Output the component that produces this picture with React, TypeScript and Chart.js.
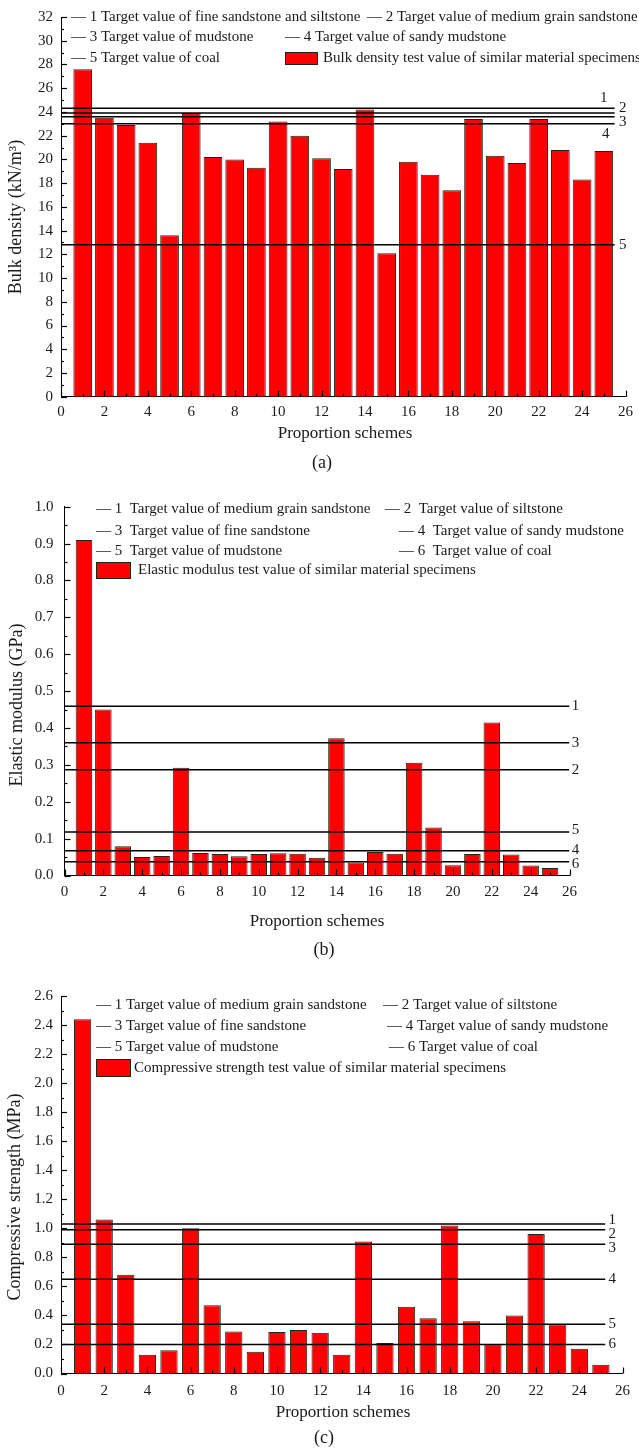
import React, { useEffect, useRef } from "react";
import { Chart, registerables } from "chart.js";

Chart.register(...registerables);

// ---------------- data ----------------
const schemes = [1, 2, 3, 4, 5, 6, 7, 8, 9, 10, 11, 12, 13, 14, 15, 16, 17, 18, 19, 20, 21, 22, 23, 24, 25];
const xTicks = [0, 2, 4, 6, 8, 10, 12, 14, 16, 18, 20, 22, 24, 26];

const bulkDensity = [27.6, 23.5, 22.9, 21.4, 13.6, 23.9, 20.2, 20.0, 19.3, 23.2, 22.0, 20.1, 19.2, 24.2, 12.1, 19.8, 18.7, 17.4, 23.4, 20.3, 19.7, 23.4, 20.8, 18.3, 20.7];
const bulkTargets = [24.3, 23.9, 23.6, 23.0, 12.8];
const bulkTargetNames = ["1", "2", "3", "4", "5"];
const bulkLegend = [
  "— 1 Target value of fine sandstone and siltstone",
  "— 2 Target value of medium grain sandstone",
  "— 3 Target value of mudstone",
  "— 4 Target value of sandy mudstone",
  "— 5 Target value of coal",
];
const bulkBarLegend = "Bulk density test value of similar material specimens";

const elasticModulus = [0.91, 0.45, 0.079, 0.05, 0.053, 0.292, 0.061, 0.058, 0.052, 0.058, 0.06, 0.059, 0.048, 0.372, 0.035, 0.064, 0.059, 0.306, 0.13, 0.028, 0.058, 0.415, 0.057, 0.027, 0.02];
const elasticTargets = [0.459, 0.287, 0.36, 0.067, 0.118, 0.037];
const elasticTargetNames = ["1", "2", "3", "4", "5", "6"];
const elasticLegend = [
  "— 1  Target value of medium grain sandstone",
  "— 2  Target value of siltstone",
  "— 3  Target value of fine sandstone",
  "— 4  Target value of sandy mudstone",
  "— 5  Target value of mudstone",
  "— 6  Target value of coal",
];
const elasticBarLegend = "Elastic modulus test value of similar material specimens";

const compressiveStrength = [2.44, 1.06, 0.68, 0.13, 0.16, 1.0, 0.47, 0.29, 0.15, 0.285, 0.3, 0.28, 0.13, 0.91, 0.21, 0.46, 0.38, 1.02, 0.36, 0.2, 0.4, 0.96, 0.34, 0.17, 0.06];
const compressiveTargets = [1.03, 0.99, 0.89, 0.65, 0.34, 0.2];
const compressiveTargetNames = ["1", "2", "3", "4", "5", "6"];
const compressiveLegend = [
  "— 1 Target value of medium grain sandstone",
  "— 2 Target value of siltstone",
  "— 3 Target value of fine sandstone",
  "— 4 Target value of sandy mudstone",
  "— 5 Target value of mudstone",
  "— 6 Target value of coal",
];
const compressiveBarLegend = "Compressive strength test value of similar material specimens";

// ---------------- styles ----------------
const SERIF = '"Liberation Serif", "Times New Roman", serif';
const TEXT = "#1a1a1a";
const RED = "#ff0000";
const W = 639;

type Panel = {
  top: number;
  height: number;
  area: { left: number; right: number; top: number; bottom: number };
  values: number[];
  targets: number[];
  targetNames: string[];
  legend: string[];
  barLegend: string;
  legendPos: number[][];
  box: { x: number; y: number; w: number; h: number; textX: number };
  yMax: number;
  yStep: number;
  yMinor: number;
  decimals: number;
  lineEnd: number;
  labelDx: number[];
  labelDy: number[];
  barPct: number;
  xTickPad: number;
  yTickPad: number;
  yTitle: string;
  yTitlePos: number[];
  xTitlePos: number[];
  caption: string;
  captionPos: number[];
};

const panels: Panel[] = [
  {
    top: 0,
    height: 475,
    area: { left: 61, right: 628.5, top: 15, bottom: 396.7 },
    values: bulkDensity,
    targets: bulkTargets,
    targetNames: bulkTargetNames,
    legend: bulkLegend,
    barLegend: bulkBarLegend,
    legendPos: [[71, 17], [367, 17], [71, 37], [285, 37], [71, 58]],
    box: { x: 285, y: 52, w: 33, h: 13, textX: 323 },
    yMax: 32,
    yStep: 2,
    yMinor: 1,
    decimals: 0,
    lineEnd: 25.5,
    labelDx: [-11, 8, 8, -9, 8],
    labelDy: [-10, -5, 5, 10, 0],
    barPct: 0.86,
    xTickPad: 6,
    yTickPad: 8,
    yTitle: "Bulk density (kN/m³)",
    yTitlePos: [16, 217],
    xTitlePos: [345, 434],
    caption: "(a)",
    captionPos: [322, 463],
  },
  {
    top: 475,
    height: 495,
    area: { left: 64.5, right: 569.5, top: 31.7, bottom: 400.5 },
    values: elasticModulus,
    targets: elasticTargets,
    targetNames: elasticTargetNames,
    legend: elasticLegend,
    barLegend: elasticBarLegend,
    legendPos: [[96, 34], [385, 34], [96, 56], [399, 56], [96, 76], [399, 76]],
    box: { x: 96, y: 87, w: 35, h: 17, textX: 138 },
    yMax: 1.0,
    yStep: 0.1,
    yMinor: 0.05,
    decimals: 1,
    lineEnd: 26,
    labelDx: [6, 6, 6, 6, 6, 6],
    labelDy: [0, 0, 0, -1, -1.5, 2],
    barPct: 0.85,
    xTickPad: 8,
    yTickPad: 11,
    yTitle: "Elastic modulus (GPa)",
    yTitlePos: [17, 230],
    xTitlePos: [317, 447],
    caption: "(b)",
    captionPos: [324, 475],
  },
  {
    top: 955,
    height: 497,
    area: { left: 61, right: 625.7, top: 41, bottom: 418.5 },
    values: compressiveStrength,
    targets: compressiveTargets,
    targetNames: compressiveTargetNames,
    legend: compressiveLegend,
    barLegend: compressiveBarLegend,
    legendPos: [[96, 50], [383, 50], [96, 71], [387, 71], [96, 92], [389, 92]],
    box: { x: 96, y: 104, w: 35, h: 18, textX: 134 },
    yMax: 2.6,
    yStep: 0.2,
    yMinor: 0.1,
    decimals: 1,
    lineEnd: 25.2,
    labelDx: [7, 7, 7, 7, 7, 7],
    labelDy: [-4, 4, 4, 0, 0, 0],
    barPct: 0.8,
    xTickPad: 9,
    yTickPad: 8,
    yTitle: "Compressive strength (MPa)",
    yTitlePos: [15, 242],
    xTitlePos: [343, 458],
    caption: "(c)",
    captionPos: [324, 483],
  },
];

// ---------------- overlay plugin ----------------
const overlayPlugin = {
  id: "overlay",
  afterDatasetsDraw(chart: any, _args: any, o: any) {
    const p: Panel = o.panel;
    const ctx = chart.ctx;
    const { left, bottom } = chart.chartArea;
    const xs = chart.scales.x;
    const ys = chart.scales.y;
    ctx.save();
    ctx.strokeStyle = "#000";
    ctx.lineWidth = 1.2;
    // inward ticks, y
    const nY = Math.round(p.yMax / p.yMinor);
    for (let i = 0; i <= nY; i++) {
      const py = Math.round(ys.getPixelForValue(i * p.yMinor)) + 0.5;
      const len = i % 2 === 0 ? 6 : 3;
      ctx.beginPath();
      ctx.moveTo(left, py);
      ctx.lineTo(left + len, py);
      ctx.stroke();
    }
    // inward ticks, x
    for (let i = 0; i <= 26; i++) {
      const px = Math.round(xs.getPixelForValue(i)) + 0.5;
      const len = i % 2 === 0 ? 6 : 3;
      ctx.beginPath();
      ctx.moveTo(px, bottom);
      ctx.lineTo(px, bottom - len);
      ctx.stroke();
    }
    // target line labels
    ctx.fillStyle = TEXT;
    ctx.font = `15px ${SERIF}`;
    ctx.textAlign = "center";
    ctx.textBaseline = "middle";
    p.targets.forEach((v, i) => {
      const px = xs.getPixelForValue(p.lineEnd) + p.labelDx[i];
      const py = ys.getPixelForValue(v) + p.labelDy[i];
      ctx.fillText(p.targetNames[i], px, py);
    });
    // legend
    ctx.textAlign = "left";
    p.legend.forEach((t, i) => {
      ctx.fillText(t, p.legendPos[i][0], p.legendPos[i][1]);
    });
    const b = p.box;
    ctx.fillStyle = RED;
    ctx.fillRect(b.x, b.y, b.w, b.h);
    ctx.strokeStyle = "#222";
    ctx.lineWidth = 1;
    ctx.strokeRect(b.x + 0.5, b.y + 0.5, b.w - 1, b.h - 1);
    ctx.fillStyle = TEXT;
    ctx.fillText(p.barLegend, b.textX, b.y + b.h / 2);
    // x title and caption
    ctx.textAlign = "center";
    ctx.font = `17px ${SERIF}`;
    ctx.fillText("Proportion schemes", p.xTitlePos[0], p.xTitlePos[1]);
    ctx.font = `18px ${SERIF}`;
    ctx.fillText(p.caption, p.captionPos[0], p.captionPos[1]);
    // y title
    ctx.save();
    ctx.translate(p.yTitlePos[0], p.yTitlePos[1]);
    ctx.rotate(-Math.PI / 2);
    ctx.font = `18px ${SERIF}`;
    ctx.fillText(p.yTitle, 0, 0);
    ctx.restore();
    ctx.restore();
  },
};

function buildConfig(p: Panel): any {
  const tickFont = { family: SERIF, size: 15 };
  return {
    type: "bar",
    data: {
      datasets: [
        {
          type: "bar",
          data: schemes.map((s, i) => ({ x: s, y: p.values[i] })),
          backgroundColor: RED,
          borderColor: "#222",
          borderWidth: 1,
          borderSkipped: "start",
          barPercentage: p.barPct,
          categoryPercentage: 1,
          order: 2,
        },
        ...p.targets.map((v) => ({
          type: "line",
          data: [
            { x: 0, y: v },
            { x: p.lineEnd, y: v },
          ],
          borderColor: "#000",
          borderWidth: 1.5,
          pointRadius: 0,
          fill: false,
          order: 1,
        })),
      ],
    },
    options: {
      responsive: false,
      animation: false,
      devicePixelRatio: 1,
      events: [],
      layout: { padding: { top: p.area.top, right: W - p.area.right, left: 0, bottom: 0 } },
      plugins: {
        legend: { display: false },
        tooltip: { enabled: false },
        overlay: { panel: p },
      },
      scales: {
        x: {
          type: "linear",
          min: 0,
          max: 26,
          offset: false,
          afterFit: (s: any) => {
            s.height = p.height - p.area.bottom;
          },
          afterBuildTicks: (s: any) => {
            s.ticks = xTicks.map((v) => ({ value: v }));
          },
          grid: { display: false, drawTicks: false },
          border: { display: true, color: "#000", width: 1 },
          ticks: {
            autoSkip: false,
            maxRotation: 0,
            padding: p.xTickPad,
            font: tickFont,
            color: TEXT,
          },
        },
        y: {
          type: "linear",
          min: 0,
          max: p.yMax,
          afterFit: (s: any) => {
            s.width = p.area.left;
          },
          grid: { display: false, drawTicks: false },
          border: { display: true, color: "#000", width: 1 },
          ticks: {
            stepSize: p.yStep,
            autoSkip: false,
            padding: p.yTickPad,
            font: tickFont,
            color: TEXT,
            callback: (v: any) => Number(v).toFixed(p.decimals),
          },
        },
      },
    },
    plugins: [overlayPlugin],
  };
}

function PanelChart({ p }: { p: Panel }) {
  const ref = useRef<HTMLCanvasElement | null>(null);
  useEffect(() => {
    const chart = new Chart(ref.current as HTMLCanvasElement, buildConfig(p));
    return () => chart.destroy();
  }, [p]);
  return (
    <canvas
      ref={ref}
      width={W}
      height={p.height}
      style={{ position: "absolute", left: 0, top: p.top, width: W, height: p.height, display: "block" }}
    />
  );
}

export default function App() {
  return (
    <div style={{ position: "absolute", left: 0, top: 0, width: W, height: 1452, background: "#fff", overflow: "hidden" }}>
      {panels.map((p, i) => (
        <PanelChart key={i} p={p} />
      ))}
    </div>
  );
}
